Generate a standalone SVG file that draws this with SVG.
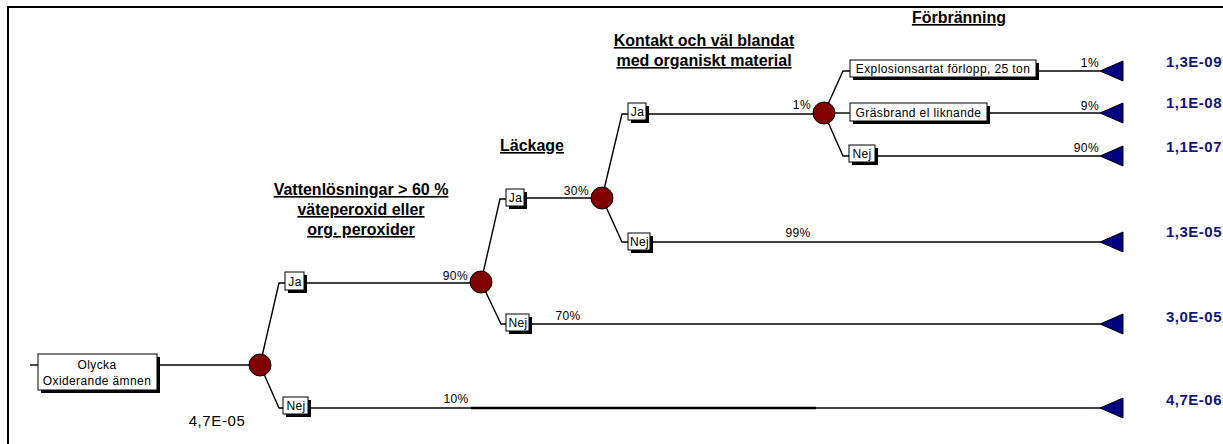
<svg xmlns="http://www.w3.org/2000/svg" width="1223" height="444" viewBox="0 0 1223 444">
<style>
.frame{stroke:#000;stroke-width:2;fill:none}
.c{stroke:#000;stroke-width:1.4;fill:none}
.sh{fill:#000}
.bx{fill:#fff;stroke:#000;stroke-width:1}
.lb{font-family:"Liberation Sans",Arial,sans-serif;font-size:12px;letter-spacing:0.4px;fill:#000;text-anchor:middle}
.pc{font-family:"Liberation Sans",Arial,sans-serif;font-size:12px;letter-spacing:0.4px;fill:#000;text-anchor:end}
.pm{font-family:"Liberation Sans",Arial,sans-serif;font-size:12px;letter-spacing:0.4px;fill:#000;text-anchor:middle}
.hd{font-family:"Liberation Sans",Arial,sans-serif;font-size:16px;font-weight:bold;fill:#000;text-anchor:middle;text-decoration:underline}
.ch{fill:#800000;stroke:#000;stroke-width:1}
.tr{fill:#000080;stroke:#000;stroke-width:1}
.rs{font-family:"Liberation Sans",Arial,sans-serif;font-size:15px;font-weight:bold;letter-spacing:0.5px;fill:#14147f}
.pr{font-family:"Liberation Sans",Arial,sans-serif;font-size:15px;letter-spacing:0.6px;fill:#000;text-anchor:middle}
</style>
<defs>
<polygon id="term" class="tr" points="0,0 23,-10 23,10"/>
</defs>
<path class="frame" d="M8,444 V7 H1223"/>
<g id="headings">
<text class="hd" x="361" y="195">Vattenlösningar &gt; 60 %</text>
<text class="hd" x="361" y="215">väteperoxid eller </text>
<text class="hd" x="361" y="235">org. peroxider</text>
<text class="hd" x="532" y="151">Läckage</text>
<text class="hd" x="704" y="46">Kontakt och väl blandat</text>
<text class="hd" x="704" y="66">med organiskt material</text>
<text class="hd" x="959" y="23">Förbränning</text>
</g>
<g id="connectors">
<path class="c" d="M30,365 H38"/>
<path class="c" d="M157,365 H260"/>
<path class="c" d="M260,365 L279,283 H285"/>
<path class="c" d="M260,365 L279,408 H283"/>
<path class="c" d="M304,283 H481"/>
<path class="c" d="M308,408 H1100"/>
<path d="M471,408 H816" stroke="#000" stroke-width="2.4"/>
<path class="c" d="M481,282 L500,199 H506"/>
<path class="c" d="M481,282 L501,324 H506"/>
<path class="c" d="M524,198 H602"/>
<path class="c" d="M529,324 H1100"/>
<path class="c" d="M602,198 L622,114 H628"/>
<path class="c" d="M602,198 L622,242 H628"/>
<path class="c" d="M646,114 H824"/>
<path class="c" d="M650,242 H1100"/>
<path class="c" d="M824,113 L843,71 H850"/>
<path class="c" d="M824,113 H850"/>
<path class="c" d="M824,113 L843,156 H849"/>
<path class="c" d="M1036,71 H1100"/>
<path class="c" d="M987,113 H1100"/>
<path class="c" d="M875,156 H1100"/>
</g>
<g id="probabilities">
<text class="pc" x="468" y="280">90%</text>
<text class="pc" x="589" y="195">30%</text>
<text class="pc" x="811" y="109">1%</text>
<text class="pc" x="1099" y="67">1%</text>
<text class="pc" x="1099" y="110">9%</text>
<text class="pc" x="1099" y="152">90%</text>
<text class="pm" x="798" y="237">99%</text>
<text class="pm" x="568" y="320">70%</text>
<text class="pm" x="456" y="403">10%</text>
</g>
<g id="root">
<rect class="sh" x="41" y="357" width="119" height="36"/>
<rect class="bx" x="38" y="354" width="119" height="36"/>
<text class="lb" x="97" y="369">Olycka</text>
<text class="lb" x="97" y="385">Oxiderande ämnen</text>
<text class="pr" x="217" y="426">4,7E-05</text>
</g>
<g id="chance1"><circle class="ch" cx="260" cy="365" r="11"/></g>
<g id="ja1">
<rect class="sh" x="288" y="275" width="19" height="18"/>
<rect class="bx" x="285" y="272" width="19" height="18"/>
<text class="lb" x="295" y="286">Ja</text>
</g>
<g id="nej1">
<rect class="sh" x="286" y="400" width="25" height="17"/>
<rect class="bx" x="283" y="397" width="25" height="17"/>
<text class="lb" x="296" y="410">Nej</text>
</g>
<g id="chance2"><circle class="ch" cx="481" cy="282" r="11"/></g>
<g id="ja2">
<rect class="sh" x="509" y="192" width="18" height="17"/>
<rect class="bx" x="506" y="189" width="18" height="17"/>
<text class="lb" x="515.5" y="202">Ja</text>
</g>
<g id="nej2">
<rect class="sh" x="509" y="317" width="23" height="17"/>
<rect class="bx" x="506" y="314" width="23" height="17"/>
<text class="lb" x="518" y="327">Nej</text>
</g>
<g id="chance3"><circle class="ch" cx="602" cy="198" r="11"/></g>
<g id="ja3">
<rect class="sh" x="631" y="106" width="18" height="17"/>
<rect class="bx" x="628" y="103" width="18" height="17"/>
<text class="lb" x="637.5" y="116">Ja</text>
</g>
<g id="nej3">
<rect class="sh" x="631" y="236" width="22" height="17"/>
<rect class="bx" x="628" y="233" width="22" height="17"/>
<text class="lb" x="639.5" y="246">Nej</text>
</g>
<g id="chance4"><circle class="ch" cx="824" cy="113" r="11"/></g>
<g id="explosion">
<rect class="sh" x="853" y="63" width="186" height="17"/>
<rect class="bx" x="850" y="60" width="186" height="17"/>
<text class="lb" x="943" y="73">Explosionsartat förlopp, 25 ton</text>
</g>
<g id="grasbrand">
<rect class="sh" x="853" y="106" width="137" height="18"/>
<rect class="bx" x="850" y="103" width="137" height="18"/>
<text class="lb" x="918.5" y="116.5">Gräsbrand el liknande</text>
</g>
<g id="nej4">
<rect class="sh" x="852" y="148" width="26" height="17"/>
<rect class="bx" x="849" y="145" width="26" height="17"/>
<text class="lb" x="862" y="158">Nej</text>
</g>
<g id="terminals">
<use href="#term" x="1100" y="71"/>
<use href="#term" x="1100" y="113"/>
<use href="#term" x="1100" y="156"/>
<use href="#term" x="1100" y="242"/>
<use href="#term" x="1100" y="324"/>
<use href="#term" x="1100" y="408"/>
</g>
<g id="results">
<text class="rs" x="1166" y="67">1,3E-09</text>
<text class="rs" x="1166" y="108">1,1E-08</text>
<text class="rs" x="1166" y="152">1,1E-07</text>
<text class="rs" x="1166" y="237">1,3E-05</text>
<text class="rs" x="1166" y="322">3,0E-05</text>
<text class="rs" x="1166" y="405">4,7E-06</text>
</g>
</svg>
